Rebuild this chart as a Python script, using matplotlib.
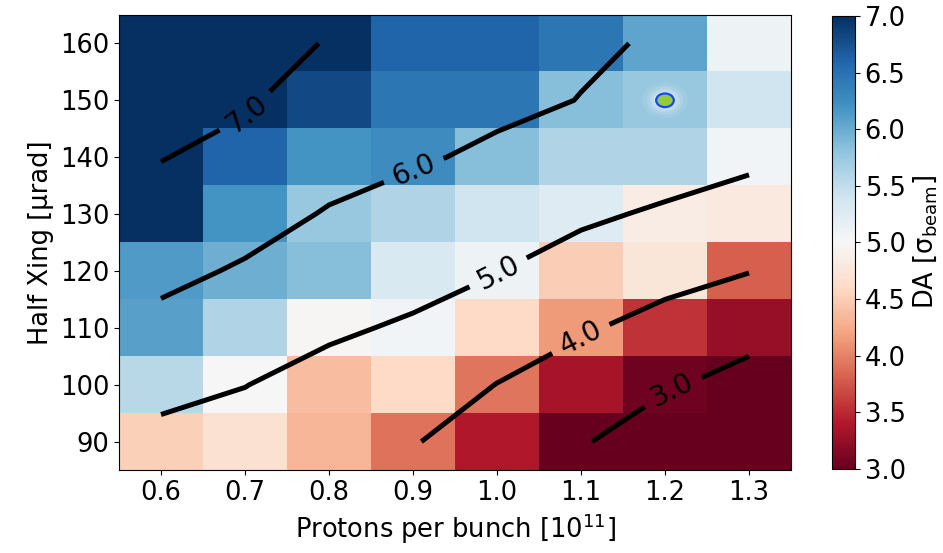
import numpy as np
import matplotlib
matplotlib.use("Agg")
import matplotlib.pyplot as plt
from matplotlib.patches import Ellipse

# Scan axes
intensity = [0.6, 0.7, 0.8, 0.9, 1.0, 1.1, 1.2, 1.3]          # protons per bunch [1e11]
half_xing = [90, 100, 110, 120, 130, 140, 150, 160]           # half crossing angle [urad]

# Dynamic aperture per scan point (rows: half_xing 90 -> 160)
da_cells = [
    [4.52, 4.70, 4.34, 3.92, 3.40, 2.90, 2.80, 2.80],
    [5.55, 5.01, 4.38, 4.60, 3.93, 3.35, 3.05, 2.95],
    [6.09, 5.60, 4.98, 5.05, 4.60, 4.15, 3.55, 3.25],
    [6.14, 5.98, 5.85, 5.30, 5.10, 4.50, 4.75, 3.80],
    [7.20, 6.20, 5.75, 5.60, 5.40, 5.25, 4.85, 4.80],
    [7.40, 6.60, 6.20, 6.25, 5.85, 5.60, 5.60, 5.05],
    [7.50, 7.30, 6.80, 6.45, 6.45, 5.85, 5.75, 5.40],
    [7.50, 7.40, 7.05, 6.60, 6.60, 6.45, 6.05, 5.10],
]

# Smoothed DA surface used for the iso-DA lines
da_fit = [
    [4.50, 4.40, 4.35, 4.05, 3.55, 3.05, 2.67, 2.70],
    [5.55, 5.03, 4.45, 4.65, 3.98, 3.35, 3.06, 2.82],
    [5.85, 5.60, 5.24, 4.80, 4.65, 4.14, 3.58, 3.18],
    [6.14, 5.94, 5.85, 5.57, 5.02, 4.62, 4.42, 4.03],
    [6.65, 6.21, 5.96, 5.60, 5.40, 5.15, 4.88, 4.80],
    [7.03, 6.73, 6.21, 6.12, 5.82, 5.60, 5.43, 5.09],
    [7.50, 7.105, 6.55, 6.45, 6.22, 5.98, 5.75, 5.40],
    [8.00, 7.50, 6.93, 6.60, 6.60, 6.12, 5.91, 5.10],
]

contour_levels = [3.0, 4.0, 5.0, 6.0, 7.0]
label_spots = [(0.71, 146.5), (0.90, 138.0), (1.00, 120.0), (1.10, 108.0), (1.21, 98.5)]

# Working point
wp_intensity = 1.2
wp_xing = 150

FS = 18.5

plt.rcParams['font.family'] = ['DejaVu Sans']
fig = plt.figure(figsize=(9.43, 5.53), dpi=100)
ax = fig.add_axes([0.1262, 0.150, 0.7126, 0.8229])
cax = fig.add_axes([0.8823, 0.152, 0.0244, 0.819])

x = np.array(intensity)
y = np.array(half_xing)
dx = x[1] - x[0]
dy = y[1] - y[0]
extent = [x[0] - dx / 2, x[-1] + dx / 2, y[0] - dy / 2, y[-1] + dy / 2]

im = ax.imshow(np.array(da_cells), origin='lower', extent=extent, aspect='auto',
               cmap='RdBu', vmin=3, vmax=7, interpolation='nearest')

cs = ax.contour(x, y, np.array(da_fit), levels=contour_levels, colors='black',
                linewidths=3.6)
ax.clabel(cs, fmt='%.1f', fontsize=20, inline=True, inline_spacing=10,
          manual=label_spots)

# glow around the working point
for scale, alpha in [(2.6, 0.10), (2.1, 0.15), (1.7, 0.25), (1.35, 0.35)]:
    ax.add_patch(Ellipse((wp_intensity, wp_xing), 0.021 * scale, 2.4 * scale,
                         facecolor='#eef0fb', edgecolor='none', alpha=alpha, zorder=4))
ax.add_patch(Ellipse((wp_intensity, wp_xing), 0.021, 2.4, facecolor='#94c940',
                     edgecolor='#1248ff', linewidth=1.6, zorder=5))

ax.set_xlim(extent[0], extent[1])
ax.set_ylim(extent[2], extent[3])
ax.set_xticks(intensity)
ax.set_xticklabels([f'{v:.1f}' for v in intensity])
ax.set_yticks(half_xing)
ax.tick_params(labelsize=FS)
ax.set_xlabel('Protons per bunch [$10^{11}$]', fontsize=FS)
ax.set_ylabel('Half Xing [μrad]', fontsize=FS)

cb = fig.colorbar(im, cax=cax)
cb.set_ticks([3.0, 3.5, 4.0, 4.5, 5.0, 5.5, 6.0, 6.5, 7.0])
cb.ax.tick_params(labelsize=FS)
cb.set_label('DA [σ$_{\\mathrm{beam}}$]', fontsize=FS)

fig.savefig('out.png', dpi=100)
